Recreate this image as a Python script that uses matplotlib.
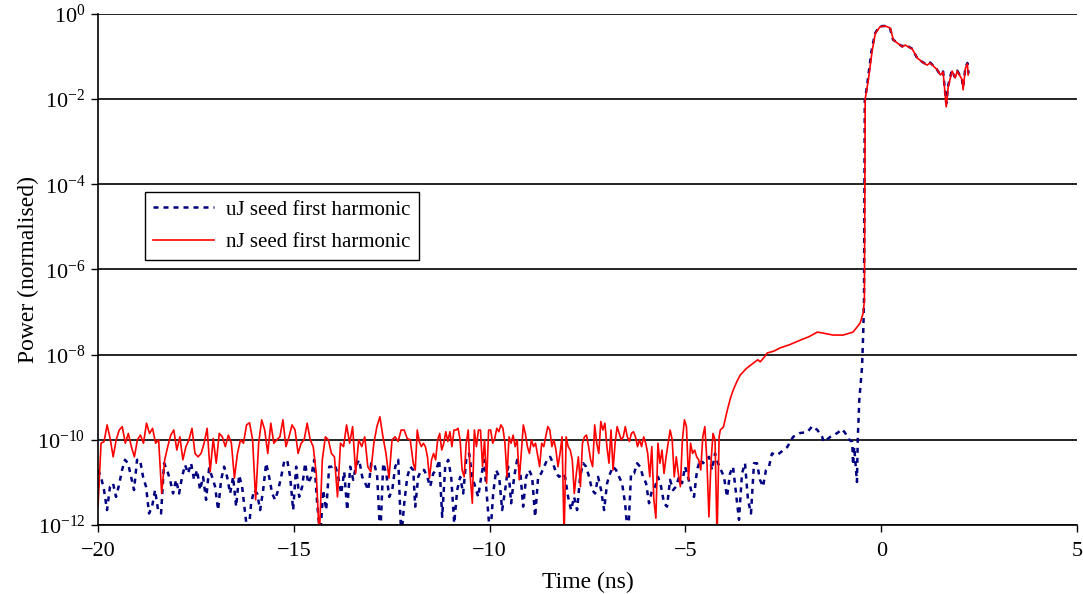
import numpy as np
import matplotlib
matplotlib.use("Agg")
import matplotlib.pyplot as plt
from matplotlib.ticker import LogFormatterMathtext, NullLocator

plt.rcParams["font.family"] = ["Liberation Serif", "DejaVu Serif"]
plt.rcParams["mathtext.fontset"] = "stix"

# nJ seed (red) - noise floor, log10 of normalised power
red_noise_a = [-11.57, -10.08, -10.04, -9.65, -9.97, -10.40, -10.00, -9.77, -9.69, -10.08,
               -9.85, -10.16, -10.40, -10.00, -9.89, -10.08, -9.61, -9.85, -9.73, -10.08,
               -10.00, -11.26, -10.47, -10.16, -9.89, -9.77, -10.24, -9.93, -10.47, -10.16,
               -10.00, -9.73, -10.32, -10.40, -10.32, -10.08, -9.73, -10.75, -9.97, -10.55,
               -9.85, -9.93, -10.16, -9.89, -10.08, -10.90, -10.32, -10.00, -10.08, -9.65,
               -9.60, -10.00, -11.41, -10.08, -9.53, -9.77, -10.32, -9.61, -10.08, -10.00,
               -9.93, -9.53, -10.16, -9.93, -9.65, -9.77, -10.32, -10.08, -10.00, -9.61,
               -10.00, -10.16, -10.79, -12.30, -10.47, -9.93, -10.00, -10.32, -10.40, -11.34,
               -10.08, -10.16, -9.65, -10.08, -9.69, -10.79, -10.00, -10.16, -9.93, -10.63,
               -10.75, -10.08, -9.69, -9.46, -9.93, -10.32, -10.90, -10.00, -9.93, -10.04,
               -9.77, -9.77, -9.97, -10.00, -10.55]
red_noise_b = [-10.71, -9.77, -10.04, -10.16, -10.08, -10.16, -10.40, -10.90, -10.47, -10.32,
               -10.47, -10.00, -9.85, -10.24, -10.08, -9.81, -10.04, -9.81, -10.16, -9.77,
               -9.77, -9.73, -10.00, -10.71, -10.87, -10.08, -9.77, -10.87, -11.49, -9.77,
               -10.16, -9.77, -9.77, -10.63, -10.00, -11.02, -9.77, -9.77, -10.08, -9.97,
               -9.73, -9.81, -9.65, -9.73, -10.08, -10.87, -9.93, -10.08, -9.89, -10.16,
               -10.00, -10.94, -10.32, -9.65, -9.85, -10.16, -10.32, -10.00, -10.16, -10.08,
               -10.36, -10.63, -10.08, -10.16, -9.93, -9.69, -9.77, -10.16, -10.00, -10.24,
               -10.63, -10.32, -9.93, -12.30, -9.93, -10.16, -10.24, -10.47, -11.26, -10.79,
               -10.40, -11.10, -10.08, -9.93, -9.89, -10.16, -10.47, -10.63, -9.65, -10.08,
               -10.32, -9.57, -9.77, -9.61, -10.16, -10.55, -9.77, -10.71, -10.08, -9.69,
               -9.85, -10.00, -9.93, -9.69, -9.93, -10.04, -9.85, -9.81, -9.93, -10.16,
               -10.00, -10.16, -9.93, -10.08, -10.32, -10.87, -10.16, -11.41, -11.84, -10.08,
               -10.55, -10.24, -10.79, -10.40, -10.08, -9.77, -10.00, -10.87, -10.40, -10.79,
               -11.10, -10.00, -9.53, -9.69, -10.94, -10.08, -10.32, -10.24, -10.40, -10.47,
               -10.71, -9.93, -9.69, -10.47, -11.81, -10.55, -9.85, -10.00, -12.30, -9.93]
# nJ seed - rise and pulse (time in ns, log10 power)
red_pulse_t = [-4.11, -4.03, -3.93, -3.85, -3.78, -3.68, -3.60, -3.45, -3.27, -3.15,
               -3.09, -2.98, -2.91, -2.75, -2.58, -2.35, -2.07, -1.85, -1.63, -1.45,
               -1.23, -0.97, -0.72, -0.54, -0.46, -0.43, -0.41, -0.33, -0.23,
               -0.15, -0.03, 0.10, 0.23, 0.31, 0.41, 0.54, 0.61, 0.79, 0.92,
               1.05, 1.17, 1.25, 1.43, 1.51, 1.58, 1.66, 1.71, 1.81, 1.89,
               1.94, 2.07, 2.09, 2.15, 2.20, 2.22]
red_pulse = [-9.77, -9.70, -9.30, -9.02, -8.83, -8.62, -8.48, -8.33, -8.20, -8.12,
             -8.17, -8.05, -7.96, -7.92, -7.84, -7.77, -7.66, -7.58, -7.47, -7.50,
             -7.54, -7.54, -7.47, -7.26, -7.02, -6.72, -2.00, -1.55, -0.85,
             -0.45, -0.30, -0.28, -0.33, -0.61, -0.68, -0.77, -0.73, -0.82, -1.03,
             -1.13, -1.20, -1.15, -1.31, -1.43, -1.36, -2.18, -1.71, -1.34, -1.50,
             -1.34, -1.55, -1.78, -1.27, -1.17, -1.43]

# uJ seed (blue) - noise floor
blue_noise_a = [-10.71, -10.87, -11.18, -11.65, -11.10, -11.02, -11.34, -11.06, -10.71, -10.47,
                -10.55, -10.87, -11.18, -10.47, -10.47, -10.87, -11.10, -11.73, -11.57, -11.18,
                -11.65, -11.73, -10.55, -10.71, -10.94, -11.26, -10.94, -11.26, -10.87, -10.59,
                -10.79, -10.55, -10.94, -10.71, -11.18, -10.87, -11.41, -10.67, -10.87, -11.10,
                -11.65, -10.94, -10.63, -10.87, -11.26, -10.87, -11.57, -10.83, -11.10, -11.73,
                -12.30, -11.49, -11.18, -11.26, -11.65, -11.18, -10.55, -10.87, -11.26, -11.41,
                -11.18, -10.87, -10.51, -10.47, -10.87, -11.65, -10.63, -11.34, -11.10, -10.55,
                -11.02, -10.87, -10.47, -11.49, -12.30, -11.18, -11.65, -10.63, -10.63, -10.59,
                -10.87, -11.26, -10.75, -11.65, -10.63, -10.94, -10.59, -10.47, -10.87, -11.02,
                -11.18, -10.55, -10.55, -10.87, -12.30, -10.55, -10.79, -11.34, -11.18, -10.63,
                -10.47, -12.30, -11.49, -10.87, -10.63, -10.71]
blue_noise_b = [-11.57, -10.87, -10.71, -10.71, -10.87, -11.10, -10.79, -10.71, -10.47, -11.81,
                -10.63, -10.47, -10.87, -11.96, -11.18, -10.87, -11.26, -10.47, -10.32, -10.87,
                -11.10, -11.34, -10.87, -10.47, -11.41, -12.30, -11.26, -10.71, -10.87, -11.65,
                -11.18, -10.63, -11.49, -10.87, -10.47, -10.71, -11.57, -10.87, -10.71, -10.87,
                -11.81, -10.87, -10.79, -10.63, -10.47, -10.40, -10.55, -10.79, -10.87, -10.79,
                -10.87, -11.34, -11.65, -11.34, -11.65, -10.87, -10.55, -10.63, -10.87, -11.18,
                -11.26, -10.87, -11.18, -11.65, -11.02, -10.79, -10.63, -10.71, -10.87, -11.02,
                -11.49, -12.30, -10.79, -10.79, -10.55, -10.63, -10.87, -11.02, -11.49, -11.18,
                -11.10, -10.87, -11.10, -11.49, -11.57, -10.94, -11.18, -11.10, -10.87, -11.02,
                -10.63, -10.87, -11.18, -11.34, -10.71, -10.47, -10.55, -10.47, -10.40, -10.71,
                -10.32, -10.55, -10.71, -10.87, -11.34, -10.79, -10.63, -11.26, -11.88, -10.79,
                -10.55, -11.41, -11.73, -10.55, -10.55, -10.94, -11.10, -10.71, -10.63, -10.32]
# uJ seed - hump and pulse
blue_pulse_t = [-2.66, -2.40, -2.25, -2.07, -1.89, -1.76, -1.63, -1.51, -1.46, -1.30,
                -1.12, -1.00, -0.92, -0.84, -0.74, -0.72, -0.69, -0.62, -0.60, -0.56,
                -0.49, -0.46, -0.44, -0.42, -0.35, -0.25, -0.16, -0.05, 0.08, 0.22,
                0.30, 0.40, 0.53, 0.61, 0.78, 0.91, 1.04, 1.16, 1.25, 1.42,
                1.50, 1.58, 1.66, 1.71, 1.80, 1.88, 1.94, 2.06, 2.09, 2.15,
                2.20, 2.23]
blue_pulse = [-10.36, -10.17, -9.93, -9.84, -9.82, -9.68, -9.77, -9.93, -10.05, -9.93,
              -9.84, -9.75, -9.84, -9.98, -10.05, -10.59, -10.17, -10.99, -10.00, -9.06,
              -8.29, -7.49, -6.72, -2.05, -1.60, -0.88, -0.46, -0.29, -0.28, -0.32,
              -0.60, -0.67, -0.76, -0.72, -0.81, -1.02, -1.12, -1.19, -1.14, -1.30,
              -1.42, -1.35, -2.10, -1.68, -1.33, -1.48, -1.33, -1.52, -1.72, -1.25,
              -1.15, -1.40]

# sample times for the noise segments (uniform sampling)
t_red = np.concatenate([np.linspace(-20.0, -11.95, len(red_noise_a)),
                        np.linspace(-11.90, -4.14, len(red_noise_b)),
                        red_pulse_t])
p_red = 10.0 ** np.array(red_noise_a + red_noise_b + red_pulse)

t_blue = np.concatenate([np.linspace(-20.0, -11.95, len(blue_noise_a)),
                         np.linspace(-11.90, -2.79, len(blue_noise_b)),
                         blue_pulse_t])
p_blue = 10.0 ** np.array(blue_noise_a + blue_noise_b + blue_pulse)

fig = plt.figure(figsize=(10.83, 5.94), dpi=100)
ax = fig.add_axes([0.0905, 0.1162, 0.904, 0.8602])

ax.plot(t_blue, p_blue, color="#000080", lw=1.8, ls=(0, (2, 2)),
        label="uJ seed first harmonic")
ax.plot(t_red, p_red, color="red", lw=1.2, label="nJ seed first harmonic")

ax.set_yscale("log")
ax.set_xlim(-20, 5)
ax.set_ylim(1e-12, 1)
ax.set_xticks([-20, -15, -10, -5, 0, 5])
ax.set_yticks([10.0 ** k for k in range(-12, 1, 2)])
ax.yaxis.set_major_formatter(LogFormatterMathtext())
ax.yaxis.set_minor_locator(NullLocator())
ax.tick_params(labelsize=16, direction="out", length=5, width=1, color="black")
ax.tick_params(axis="x", pad=7)
ax.tick_params(axis="y", labelsize=16, pad=4)
ax.yaxis.grid(True, color="black", lw=1.2)
ax.set_axisbelow(True)

for s in ["top", "right"]:
    ax.spines[s].set_visible(False)
for s in ["left", "bottom"]:
    ax.spines[s].set_linewidth(1.2)

ax.set_xlabel("Time (ns)", fontsize=17, labelpad=8)
ax.set_ylabel("Power (normalised)", fontsize=17, labelpad=-1)

leg = ax.legend(loc="upper left", bbox_to_anchor=(0.048, 0.652), fontsize=15,
                fancybox=False, framealpha=1, edgecolor="black",
                handlelength=2.9, borderpad=0.4, labelspacing=0.6,
                borderaxespad=0, handletextpad=0.6)
leg.get_frame().set_linewidth(1.0)

plt.savefig("out.png", dpi=100)
plt.close()
